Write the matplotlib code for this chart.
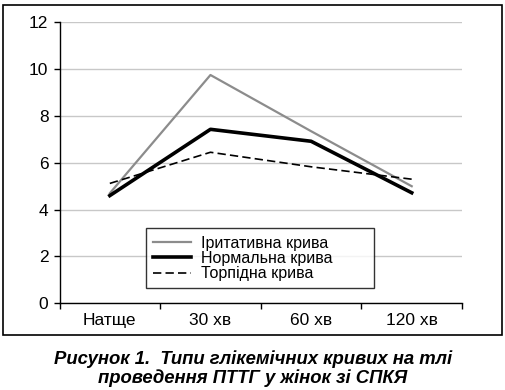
import matplotlib.pyplot as plt
from matplotlib.patches import Rectangle

plt.rcParams['font.family'] = ['Liberation Sans', 'DejaVu Sans']

# Data
times = ['Натще', '30 хв', '60 хв', '120 хв']
irritative = [4.7, 9.75, 7.35, 5.0]
normal = [4.6, 7.43, 6.92, 4.72]
torpid = [5.12, 6.45, 5.83, 5.3]
labels = ['Іритативна крива', 'Нормальна крива', 'Торпідна крива']
y_ticks = [0, 2, 4, 6, 8, 10, 12]
caption = 'Рисунок 1.  Типи глікемічних кривих на тлі\nпроведення ПТТГ у жінок зі СПКЯ'

fig = plt.figure(figsize=(5.06, 3.9), dpi=100)
ax = fig.add_axes([0.1176, 0.2223, 0.7955, 0.7205])

x = range(len(times))
ax.plot(x, irritative, color='#8c8c8c', lw=1.6, label=labels[0])
ax.plot(x, normal, color='black', lw=2.6, label=labels[1])
ax.plot(x, torpid, color='black', lw=1.2, ls=(0, (5, 2.5)), label=labels[2])

ax.set_xlim(-0.5, len(times) - 0.5)
ax.set_ylim(0, 12)
ax.set_yticks(y_ticks)
ax.set_xticks(list(x))
ax.set_xticklabels(times)
ax.set_xticks([i - 0.5 for i in range(len(times) + 1)], minor=True)
ax.tick_params(axis='x', which='major', length=0, pad=7, labelsize=12.5)
ax.tick_params(axis='x', which='minor', length=4, width=1, direction='out')
ax.tick_params(axis='y', length=4, width=1, direction='out', pad=4, labelsize=12.5)

ax.yaxis.grid(True, color='#c8c8c8', lw=1)
ax.set_axisbelow(True)
for side in ['top', 'right']:
    ax.spines[side].set_visible(False)
ax.spines['left'].set_linewidth(1)
ax.spines['bottom'].set_linewidth(1)

leg = ax.legend(loc='lower left', bbox_to_anchor=(0.214, 0.053, 0.568, 0.235),
                mode='expand', fontsize=11.5, frameon=True, fancybox=False,
                edgecolor='black', handlelength=2.4, handletextpad=0.6,
                labelspacing=0.02, borderpad=0.45, borderaxespad=0)
leg.get_frame().set_linewidth(1)

# outer frame around the chart
fig.patches.append(Rectangle((3 / 506, 1 - 335 / 390), 499 / 506, 330 / 390,
                             transform=fig.transFigure, fill=False,
                             edgecolor='black', lw=1.2))

fig.text(0.5, 0.008, caption, ha='center', va='bottom', fontsize=13.3,
         fontweight='bold', fontstyle='italic', linespacing=1.1)

fig.savefig('out.png', dpi=100)
